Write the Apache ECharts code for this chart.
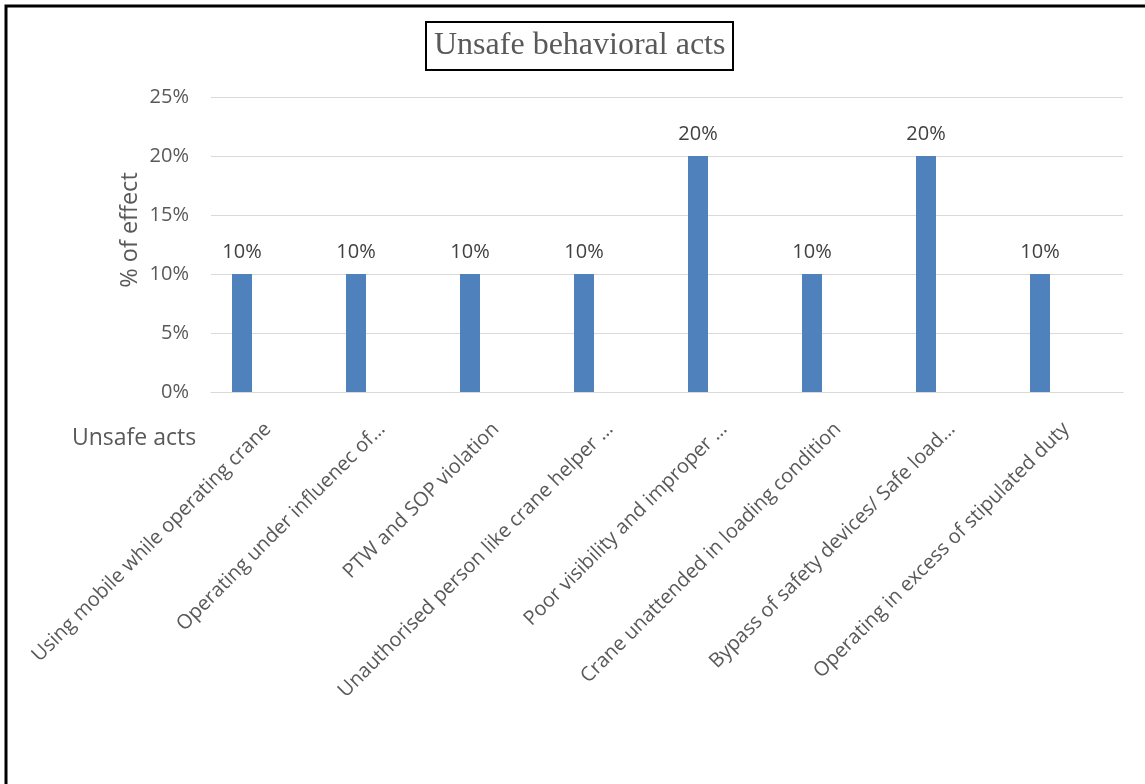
<!DOCTYPE html>
<html><head><meta charset="utf-8">
<script src="https://cdn.jsdelivr.net/npm/echarts@6/dist/echarts.min.js"></script>
<style>html,body{margin:0;padding:0;background:#fff}#c{width:1145px;height:784px}</style>
</head><body><div id="c"></div>
<script>
const categories = [
  "Using mobile while operating crane",
  "Operating under influenec of…",
  "PTW and SOP violation",
  "Unauthorised person like crane helper …",
  "Poor visibility and improper …",
  "Crane unattended in loading condition",
  "Bypass of safety devices/ Safe load…",
  "Operating in excess of stipulated duty"
];
const effectValues = [0.10, 0.10, 0.10, 0.10, 0.20, 0.10, 0.20, 0.10];
const emptySeries = [null, null, null, null, null, null, null, null];
const yTicks = [0, 0.05, 0.10, 0.15, 0.20, 0.25];

const chart = echarts.init(document.getElementById('c'), null, {renderer: 'canvas'});
const pct = v => Math.round(v * 100) + '%';
chart.setOption({
  animation: false,
  backgroundColor: '#fff',
  title: {
    text: 'Unsafe behavioral acts',
    left: 426, top: 22,
    padding: [7, 8, 7, 8],
    borderColor: '#000', borderWidth: 2,
    textStyle: {fontFamily: 'Liberation Serif', fontSize: 32, lineHeight: 34, fontWeight: 'normal', color: '#595959'}
  },
  grid: {left: 211, right: 22, top: 97, bottom: 392, containLabel: false},
  xAxis: {
    type: 'category', data: categories,
    axisLine: {lineStyle: {color: '#d9d9d9'}},
    axisTick: {show: false},
    axisLabel: {interval: 0, rotate: 45, margin: 34, fontFamily: 'Open Sans', fontSize: 20, color: '#595959'}
  },
  yAxis: {
    type: 'value', min: yTicks[0], max: yTicks[yTicks.length - 1], interval: 0.05,
    axisLine: {show: false}, axisTick: {show: false},
    splitLine: {lineStyle: {color: '#d9d9d9', width: 1}},
    axisLabel: {formatter: pct, margin: 22, fontFamily: 'Open Sans', fontSize: 20, color: '#595959'}
  },
  series: [
    {type: 'bar', data: effectValues, barWidth: 20, barGap: '160%',
     itemStyle: {color: '#4f81bd'},
     label: {show: true, position: 'top', distance: 12, formatter: p => pct(p.value),
             fontFamily: 'Open Sans', fontSize: 20, color: '#404040'}},
    {type: 'bar', data: emptySeries, barWidth: 20}
  ],
  graphic: [
    {type: 'rect', shape: {x: 6, y: 6, width: 1160, height: 800}, style: {fill: 'none', stroke: '#000', lineWidth: 3}, silent: true},
    {type: 'text', left: 72, top: 427, style: {text: 'Unsafe acts', font: '23px "Open Sans"', fill: '#595959'}},
    {type: 'text', x: 130, y: 230, rotation: Math.PI / 2,
     style: {text: '% of effect', font: '23.5px "Open Sans"', fill: '#595959', align: 'center', verticalAlign: 'middle'}}
  ]
});
</script></body></html>
